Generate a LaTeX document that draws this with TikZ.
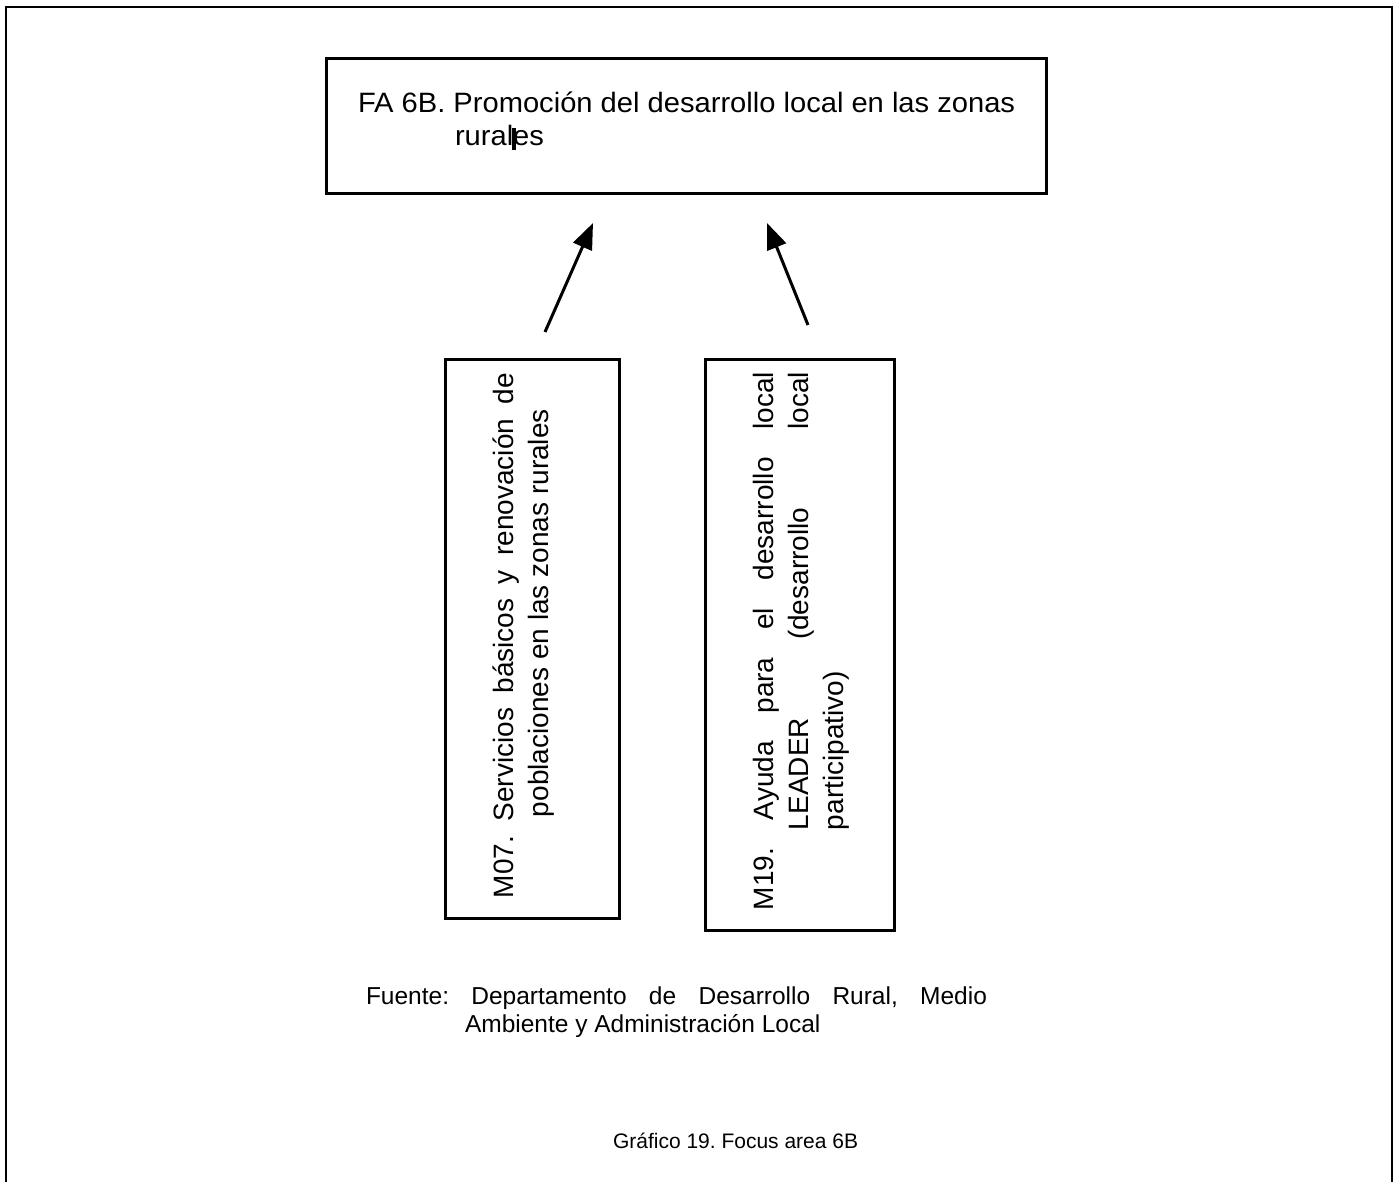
\documentclass[tikz,border=0pt]{standalone}
\usepackage{fontspec}
\setmainfont{Liberation Sans}
\newfontfamily\widefont[FakeStretch=1.04]{Liberation Sans}
\usetikzlibrary{arrows.meta}
\frenchspacing
\begin{document}
\begin{tikzpicture}[x=1pt,y=-1pt,
  frame/.style={line width=2.5pt},
  boxstyle/.style={draw, line width=3pt, inner sep=0pt},
  arrowstyle/.style={line width=3pt, -{Triangle[length=26pt,width=20pt]}},
  txt/.style={inner sep=0pt, outer sep=0pt, font=\frenchspacing}]
\useasboundingbox (0,0) rectangle (1394,1182);
\fill[white] (0,0) rectangle (1394,1182);
% outer frame (open at the bottom)
\draw[frame] (6,1195) -- (6,7) -- (1392,7) -- (1392,1195);
% boxes
\node[boxstyle, minimum width=720pt, minimum height=135pt] (top) at (686,126.5) {};
\node[boxstyle, minimum width=174pt, minimum height=559pt] (boxA) at (532,638.5) {};
\node[boxstyle, minimum width=189pt, minimum height=571pt] (boxB) at (799.5,644.5) {};
% top text
\node[txt, anchor=base west] (fatext) at (358,113) {\parbox[t]{700pt}{\widefont\fontsize{28}{33}\selectfont FA 6B. Promoción del desarrollo local en las zonas\\\hspace*{97pt}rurales}};
\draw[line width=3.5pt] (514,128) -- (514,150);
% vertical texts
\node[txt, anchor=base west, rotate=90] (m07) at (513,898) {\parbox[t]{525pt}{\fontsize{28}{35}\selectfont\hangindent=81pt\hangafter=1 M07. Servicios básicos y renovación de\linebreak poblaciones en las zonas rurales}};
\node[txt, anchor=base west, rotate=90] (m19) at (773,910) {\parbox[t]{538pt}{\fontsize{28}{35}\selectfont\hangindent=80pt\hangafter=1 M19. Ayuda para el desarrollo local\linebreak LEADER (desarrollo local\linebreak participativo)}};
% arrows
\coordinate (a1t) at (545,332);
\coordinate (a1h) at (593,223);
\coordinate (a2t) at (808,325);
\coordinate (a2h) at (767,223);
\draw[arrowstyle] (a1t) -- (a1h);
\draw[arrowstyle] (a2t) -- (a2h);
% source
\node[txt, anchor=base west] (fuente) at (366,1004) {\parbox[t]{621pt}{\fontsize{24.5}{28}\selectfont\hangindent=99pt\hangafter=1 Fuente: Departamento de Desarrollo Rural, Medio\linebreak Ambiente y Administración Local}};
% caption
\node[txt, anchor=base west] (caption) at (613,1148) {\fontsize{21}{25}\selectfont Gráfico 19. Focus area 6B};
\end{tikzpicture}
\end{document}
